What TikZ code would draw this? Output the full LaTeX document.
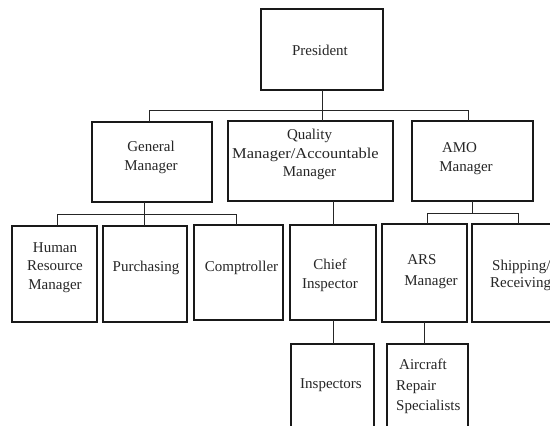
\documentclass[tikz,border=0pt]{standalone}
\usepackage{fontspec}
\setmainfont{Liberation Serif}
\begin{document}
\begin{tikzpicture}[x=1pt,y=-1pt,
  box/.style={draw=black!90,line width=1.2pt,rectangle,outer sep=0pt,inner sep=0pt},
  lbl/.style={font=\fontsize{15}{18.5}\selectfont,align=center,inner sep=0pt,text=black!85},
  conn/.style={draw=black!85,line width=1pt}]
\useasboundingbox (0,0) rectangle (550,426);
\fill[white] (0,0) rectangle (550,426);
\clip (0,0) rectangle (550,426);
% boxes
\node[box,minimum width=122pt,minimum height=81pt] (pres) at (322,49.5) {};
\node[box,minimum width=120pt,minimum height=80pt] (gm) at (152,162) {};
\node[box,minimum width=165pt,minimum height=80pt] (qm) at (310.5,161) {};
\node[box,minimum width=121pt,minimum height=80pt] (amo) at (472.5,161) {};
\node[box,minimum width=85pt,minimum height=96pt] (hr) at (54.5,274) {};
\node[box,minimum width=84pt,minimum height=96pt] (pur) at (145,274) {};
\node[box,minimum width=89pt,minimum height=95pt] (comp) at (238.5,272.5) {};
\node[box,minimum width=86pt,minimum height=95pt] (chief) at (333,272.5) {};
\node[box,minimum width=85pt,minimum height=98pt] (ars) at (424.5,273) {};
\node[box,minimum width=88pt,minimum height=98pt] (ship) at (516,273) {};
\node[box,minimum width=83pt,minimum height=96pt] (insp) at (332.5,392) {};
\node[box,minimum width=81pt,minimum height=96pt] (air) at (427.5,392) {};
% texts
\node[lbl] (tpres) at (320,50) {President};
\node[lbl] (tgm) at (151,157.5) {General\\Manager};
\node[lbl] (tqm) at (305.5,154.5) {\hspace*{8pt}Quality\\\scalebox{1.1}[1]{Manager/Accountable}\\\hspace*{8pt}Manager};
\node[lbl] (tamo) at (466,158.5) {AMO\hspace*{13pt}\\Manager};
\node[lbl] (thr) at (55,267.5) {Human\\Resource\\Manager};
\node[lbl] (tpur) at (146,268) {Purchasing};
\node[lbl] (tcomp) at (241.5,268) {Comptroller};
\node[lbl] (tchief) at (330,275.5) {Chief\\Inspector};
\node[lbl,font=\fontsize{15}{21}\selectfont] (tars) at (431,271.5) {ARS\hspace*{18pt}\\Manager};
\node[lbl,align=left,anchor=west,font=\fontsize{15}{17}\selectfont] (tship) at (490,275) {\hspace*{2pt}Shipping/\\Receiving};
\node[lbl] (tinsp) at (331,385) {Inspectors};
\node[lbl,align=left,anchor=west,font=\fontsize{15}{20.5}\selectfont] (tair) at (396,386.5) {\hspace*{3pt}Aircraft\\Repair\\Specialists};
% connectors
\coordinate (bl) at (149,110);
\coordinate (br) at (468,110);
\coordinate (gmb) at (144,214);
\coordinate (gl) at (57,214);
\coordinate (gr) at (236,214);
\coordinate (al) at (427,213);
\coordinate (ar) at (518,213);
\draw[conn] (pres.south) -- (pres.south |- qm.north);
\draw[conn] (bl |- gm.north) -- (bl) -- (br) -- (br |- amo.north);
\draw[conn] (gmb |- gm.south) -- (gmb |- pur.north);
\draw[conn] (gl |- hr.north) -- (gl) -- (gr) -- (gr |- comp.north);
\draw[conn] (chief.north |- qm.south) -- (chief.north);
\draw[conn] (amo.south) -- (amo.south |- al);
\draw[conn] (al |- ars.north) -- (al) -- (ar) -- (ar |- ship.north);
\draw[conn] (chief.south) -- (chief.south |- insp.north);
\draw[conn] (ars.south) -- (ars.south |- air.north);
\end{tikzpicture}
\end{document}
